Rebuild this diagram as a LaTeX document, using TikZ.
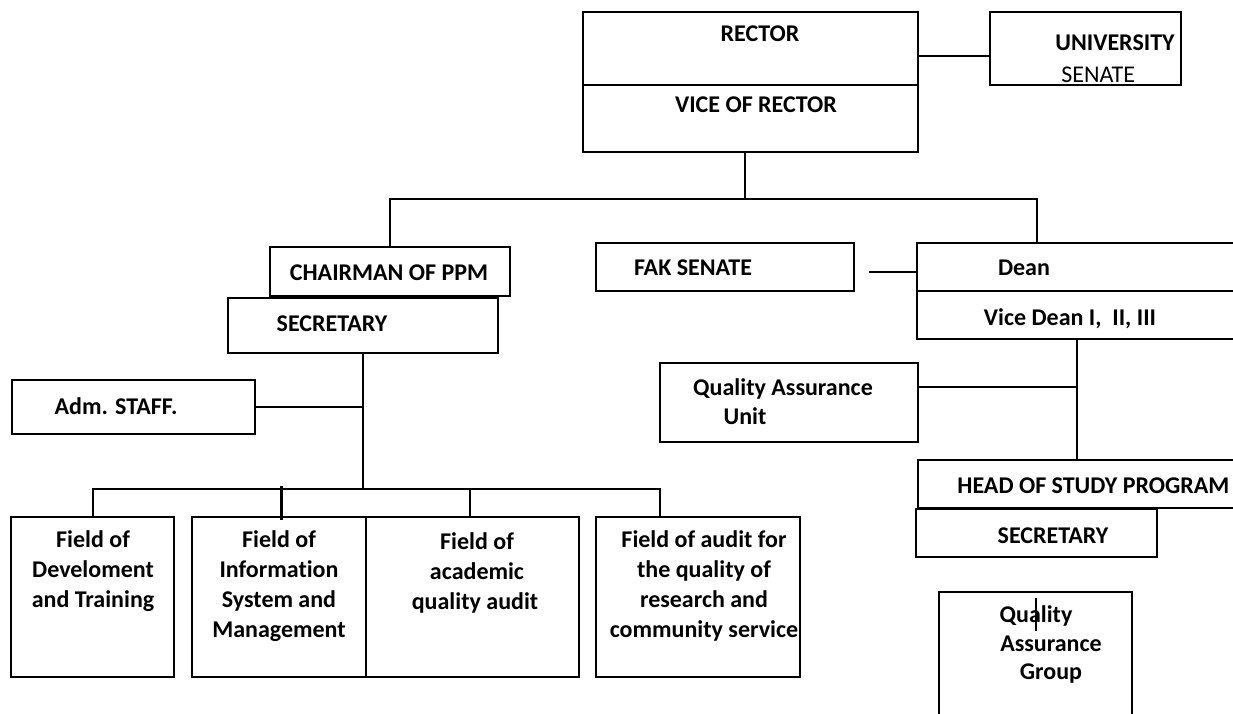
\documentclass[tikz,border=0pt]{standalone}
\usepackage{fontspec}
\setmainfont{Carlito}[Ligatures=NoCommon]
\usetikzlibrary{fit}
\begin{document}
\begin{tikzpicture}[x=0.5pt,y=-0.5pt,
  box/.style={draw, line width=0.9pt, inner sep=0pt},
  thinbox/.style={draw, line width=0.6pt, inner sep=0pt},
  lbl/.style={font=\bfseries\fontsize{12}{14}\selectfont, inner sep=0pt, text height=7.7pt, text depth=0pt},
  rlbl/.style={font=\fontsize{12}{14}\selectfont, inner sep=0pt, text height=7.7pt, text depth=0pt},
  conn/.style={line width=0.9pt}]
\useasboundingbox (0,0) rectangle (1233,713);
\clip (0,0) rectangle (1233,713);

% Rector / Vice
\node[box, fit={(583,12) (918,85)}] (rector) {};
\node[box, fit={(583,85) (918,152)}] (vice) {};
\node[lbl] (rectorT) at (760,34) {RECTOR};
\node[lbl] (viceT) at (756,105) {VICE OF RECTOR};
% University senate
\node[box, fit={(990,12) (1181,85)}] (usen) {};
\node[lbl] (usenT1) at (1115,43) {UNIVERSITY};
\node[rlbl, anchor=west] (usenT2) at (1061,75) {SENATE};
\draw[conn] (rector.east |- 0,56) -- (usen.west |- 0,56);

% top distribution
\coordinate (top) at (745,199);
\draw[conn] (vice.south -| top) -- (top);

\node[box, fit={(270,247) (510,296)}] (chair) {};
\node[lbl] (chairT) at (389,273) {CHAIRMAN OF PPM};
\node[box, fit={(596,243) (854,291)}] (fak) {};
\node[lbl] (fakT) at (693,268) {FAK SENATE};
\node[box, fit={(917,243) (1245,291)}] (dean) {};
\node[lbl] (deanT) at (1024,268) {Dean};
\draw[conn] (chair.north -| 390,0) -- (390,199) -- (1037,199) -- (dean.north -| 1037,0);

\coordinate (fakend) at (869,272);
\draw[conn] (fakend) -- (dean.west |- fakend);

% left branch
\node[box, fit={(228,298) (498,353)}] (sec1) {};
\node[lbl] (sec1T) at (332,324) {SECRETARY};
\node[box, fit={(12,380) (255,434)}] (adm) {};
\node[lbl] (admT) at (116,407) {Adm. STAFF.};
\coordinate (hub) at (363,489);
\draw[conn] (sec1.south -| hub) -- (hub);
\draw[conn] (adm.east |- 0,407) -- (363,407);

% bottom fields
\node[thinbox, fit={(11,517) (174,677)}] (b1) {};
\node[thinbox, fit={(192,517) (366,677)}] (b2) {};
\node[thinbox, fit={(366,517) (579,677)}] (b3) {};
\node[thinbox, fit={(596,517) (800,677)}] (b4) {};
\draw[conn] (b1.north -| 93,0) -- (93,489) -- (660,489) -- (b4.north -| 660,0);
\draw[conn] (470,489) -- (b3.north -| 470,0);
\draw[line width=1.5pt] (281,486) -- (b2.north -| 281,0) -- ++(0,4);

\node[lbl] (b1a) at (93,540) {Field of};
\node[lbl] (b1b) at (93,570) {Develoment};
\node[lbl] (b1c) at (93,600) {and Training};
\node[lbl] (b2a) at (279,540) {Field of};
\node[lbl] (b2b) at (279,570) {Information};
\node[lbl] (b2c) at (279,600) {System and};
\node[lbl] (b2d) at (279,630) {Management};
\node[lbl] (b3a) at (477,542) {Field of};
\node[lbl] (b3b) at (477,572) {academic};
\node[lbl] (b3c) at (475,602) {quality audit};
\node[lbl] (b4a) at (704,540) {Field of audit for};
\node[lbl] (b4b) at (704,570) {the quality of};
\node[lbl] (b4c) at (704,600) {research and};
\node[lbl] (b4d) at (704,630) {community service};

% right branch
\node[box, fit={(917,291) (1245,339)}] (vdean) {};
\node[lbl] (vdeanT) at (1070,318) {Vice Dean I,\ \ II, III};
\node[box, fit={(660,363) (918,442)}] (qau) {};
\node[lbl] (qauT1) at (783,388) {Quality Assurance};
\node[lbl] (qauT2) at (745,417) {Unit};
\node[box, fit={(918,460) (1245,508)}] (head) {};
\node[lbl, anchor=west] (headT) at (957,486) {HEAD OF STUDY PROGRAM};
\coordinate (vhub) at (1077,387);
\draw[conn] (vdean.south -| vhub) -- (head.north -| vhub);
\draw[conn] (qau.east |- vhub) -- (vhub);

\node[box, fit={(916,509) (1157,557)}] (sec2) {};
\node[lbl] (sec2T) at (1053,536) {SECRETARY};

\node[box, fit={(939,592) (1132,740)}] (qag) {};
\node[lbl] (qagT1) at (1036,615) {Quality};
\node[lbl] (qagT2) at (1051,644) {Assurance};
\node[lbl] (qagT3) at (1051,672) {Group};
\draw[line width=0.6pt] (1036,598) -- (1036,631);
\end{tikzpicture}
\end{document}
